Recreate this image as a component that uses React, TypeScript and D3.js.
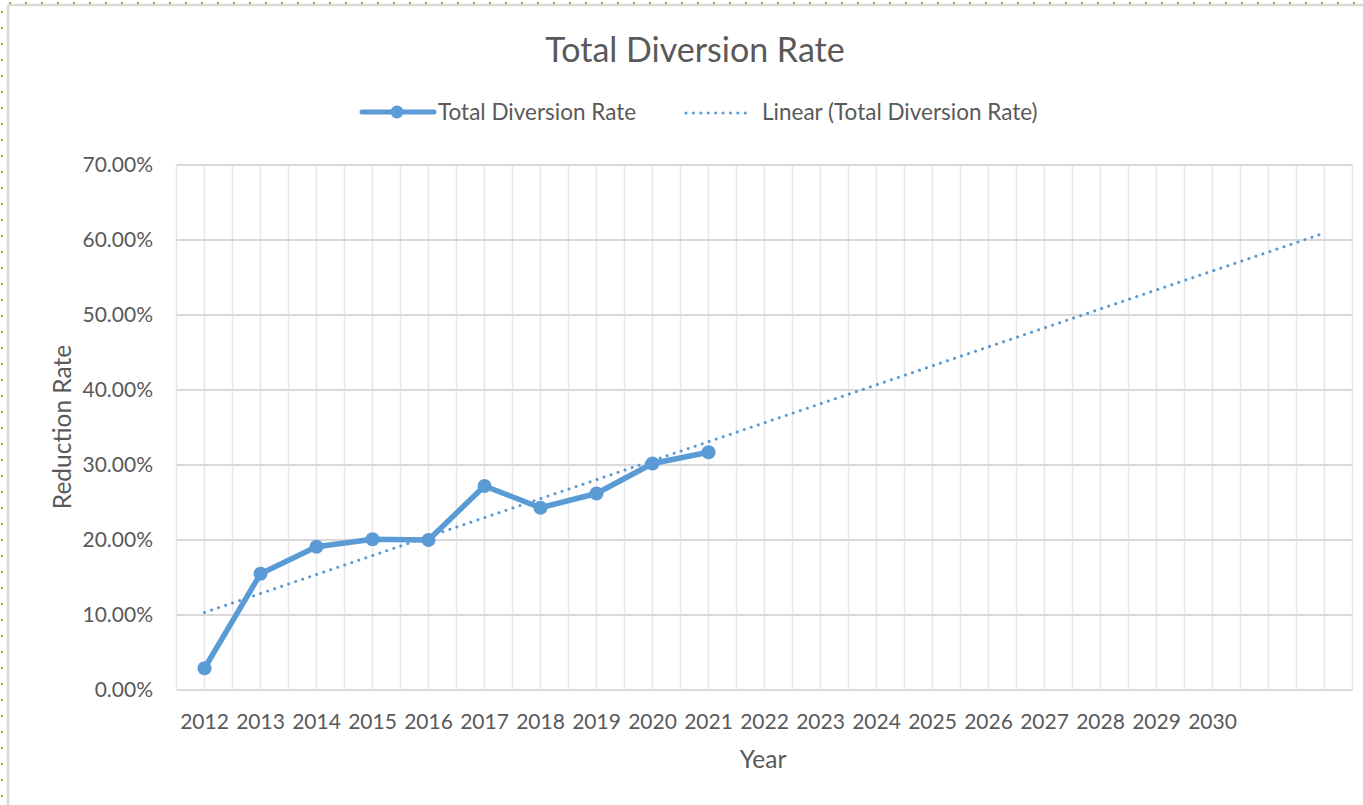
import React from "react";
import * as d3 from "d3";

// ---- data ----
const categories: string[] = [
  "2012", "2013", "2014", "2015", "2016", "2017", "2018", "2019", "2020", "2021",
  "2022", "2023", "2024", "2025", "2026", "2027", "2028", "2029", "2030", "", "",
];
const diversionRate: number[] = [0.029, 0.155, 0.191, 0.201, 0.2, 0.272, 0.243, 0.262, 0.302, 0.317];
const yTicks: number[] = [0, 0.1, 0.2, 0.3, 0.4, 0.5, 0.6, 0.7];
const seriesName = "Total Diversion Rate";
const trendName = "Linear (Total Diversion Rate)";
const chartTitle = "Total Diversion Rate";
const xTitle = "Year";
const yTitle = "Reduction Rate";

const W = 1363;
const H = 805;
const FONT = "Lato, 'Open Sans', sans-serif";
const TEXT = "#595959";
const BLUE = "#5B9BD5";

export default function App() {
  const x = d3.scaleLinear().domain([-0.5, categories.length - 0.5]).range([176.5, 1352.5]);
  const y = d3.scaleLinear().domain([0, 0.7]).range([690, 165]);

  // least squares trendline (x = 1..n), forecast to last category
  const xs = diversionRate.map((_, i) => i + 1);
  const mx = d3.mean(xs)!;
  const my = d3.mean(diversionRate)!;
  const sxy = d3.sum(xs.map((xi, i) => (xi - mx) * (diversionRate[i] - my)));
  const sxx = d3.sum(xs.map((xi) => (xi - mx) * (xi - mx)));
  const slope = sxy / sxx;
  const intercept = my - slope * mx;
  const trendPts: [number, number][] = [0, categories.length - 1].map((i) => [i, intercept + slope * (i + 1)]);

  const line = d3
    .line<[number, number]>()
    .x((d) => x(d[0]))
    .y((d) => y(d[1]));
  const seriesPts: [number, number][] = diversionRate.map((v, i) => [i, v]);

  const vGrid = d3.range(-0.5, categories.length, 0.5);
  const pct = d3.format(".2%");

  return (
    <svg
      width={W}
      height={H}
      style={{ position: "absolute", left: 0, top: 0, background: "#fff" }}
      fontFamily={FONT}
    >
      {/* frame */}
      <line x1={8} y1={5} x2={W} y2={5} stroke="#D9D9D9" strokeWidth={2.5} />
      <line x1={8} y1={5} x2={8} y2={H} stroke="#D9D9D9" strokeWidth={2.5} />
      <line x1={0} y1={3} x2={W} y2={3} stroke="#8DB82E" strokeWidth={2} strokeDasharray="2 14" strokeDashoffset={-9} />
      <line x1={2} y1={0} x2={2} y2={H} stroke="#8DB82E" strokeWidth={2} strokeDasharray="2 14" strokeDashoffset={-11} />

      {/* title */}
      <text x={695} y={62} textAnchor="middle" fontSize={34} fill={TEXT}>
        {chartTitle}
      </text>

      {/* legend */}
      <g>
        <line x1={362} y1={112} x2={434} y2={112} stroke={BLUE} strokeWidth={5} strokeLinecap="round" />
        <circle cx={397} cy={112} r={6.5} fill={BLUE} />
        <text x={438} y={120} fontSize={22.5} fill={TEXT}>
          {seriesName}
        </text>
        <line x1={686} y1={113} x2={752} y2={113} stroke={BLUE} strokeWidth={3} strokeDasharray="0.1 7.3" strokeLinecap="round" />
        <text x={762} y={120} fontSize={22.5} fill={TEXT}>
          {trendName}
        </text>
      </g>

      {/* gridlines */}
      {vGrid.map((g, i) => (
        <line key={"v" + i} x1={x(g)} x2={x(g)} y1={y(0.7)} y2={y(0)} stroke="#E6E6E6" strokeWidth={1.5} />
      ))}
      {yTicks.map((t) => (
        <line key={"h" + t} x1={x(-0.5)} x2={x(categories.length - 0.5)} y1={y(t)} y2={y(t)} stroke="#D9D9D9" strokeWidth={2} />
      ))}

      {/* y tick labels */}
      {yTicks.map((t) => (
        <text key={"yt" + t} x={153} y={y(t) + 7} textAnchor="end" fontSize={21} fill={TEXT}>
          {pct(t)}
        </text>
      ))}

      {/* x tick labels */}
      {categories.map((c, i) => (
        <text key={"xt" + i} x={x(i)} y={729} textAnchor="middle" fontSize={21} fill={TEXT}>
          {c}
        </text>
      ))}

      {/* axis titles */}
      <text x={763} y={768} textAnchor="middle" fontSize={24.5} fill={TEXT}>
        {xTitle}
      </text>
      <text transform="translate(71,427) rotate(-90)" textAnchor="middle" fontSize={24.5} fill={TEXT}>
        {yTitle}
      </text>

      {/* trendline */}
      <path d={line(trendPts) || ""} fill="none" stroke={BLUE} strokeWidth={3} strokeDasharray="0.1 7.3" strokeLinecap="round" />

      {/* series */}
      <path d={line(seriesPts) || ""} fill="none" stroke={BLUE} strokeWidth={5.5} strokeLinejoin="round" strokeLinecap="round" />
      {seriesPts.map((p, i) => (
        <circle key={"m" + i} cx={x(p[0])} cy={y(p[1])} r={7} fill={BLUE} />
      ))}
    </svg>
  );
}
